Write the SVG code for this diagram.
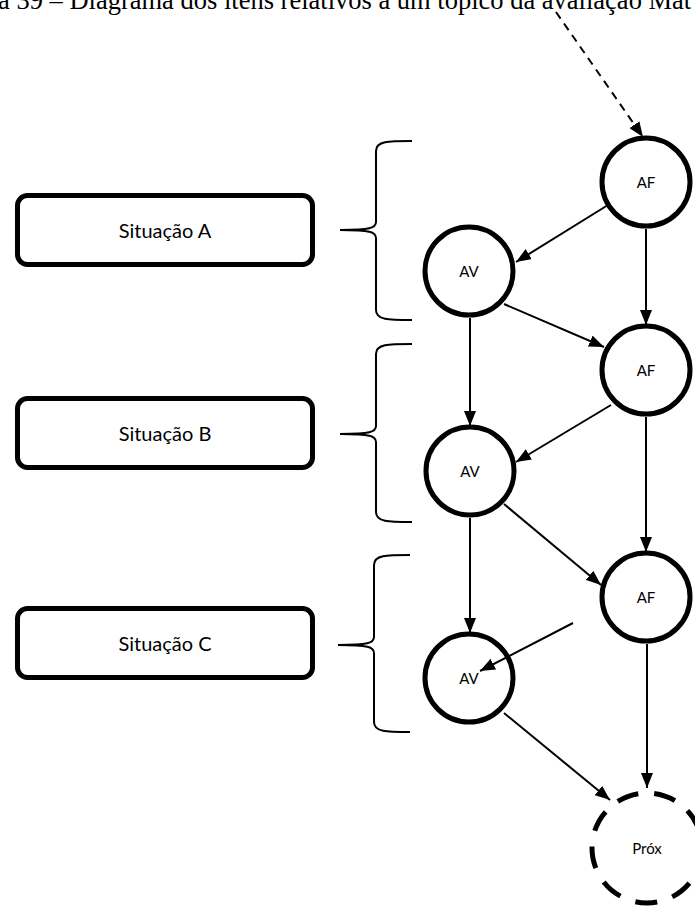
<svg xmlns="http://www.w3.org/2000/svg" width="695" height="907" viewBox="0 0 695 907">
  <defs>
    <marker id="arrow" markerUnits="userSpaceOnUse" markerWidth="15" markerHeight="12" refX="15" refY="6" orient="auto">
      <path d="M0,0 L15,6 L0,12 z" fill="#000"/>
    </marker>
    <style>
      .title { font-family: "Liberation Serif", "Times New Roman", serif; font-size: 26.5px; fill: #000; }
      .box { fill: #fff; stroke: #000; stroke-width: 5; }
      .box-label { font-family: Lato, "Liberation Sans", sans-serif; font-size: 20px; fill: #000; text-anchor: middle; dominant-baseline: central; }
      .node { fill: #fff; stroke: #000; stroke-width: 5; }
      .node-dashed { fill: #fff; stroke: #000; stroke-width: 5; stroke-dasharray: 22 16; }
      .node-label { font-family: Lato, "Liberation Sans", sans-serif; font-size: 15px; fill: #000; text-anchor: middle; dominant-baseline: central; }
      .brace { fill: none; stroke: #000; stroke-width: 2; }
      .edge { fill: none; stroke: #000; stroke-width: 2; marker-end: url(#arrow); }
      .edge-dashed { stroke-dasharray: 8 6; }
    </style>
  </defs>

  <rect width="695" height="907" fill="#fff"/>

  <!-- caption, cropped at the top and right -->
  <text class="title" x="-2" y="9">a 39 – Diagrama dos itens relativos a um tópico da avaliação Mat</text>

  <!-- situation boxes -->
  <g id="situacao-a">
    <rect class="box" x="17.5" y="195.5" width="295" height="69" rx="10"/>
    <text class="box-label" x="165" y="230">Situação A</text>
  </g>
  <g id="situacao-b">
    <rect class="box" x="17.5" y="398.5" width="295" height="69" rx="10"/>
    <text class="box-label" x="165" y="433">Situação B</text>
  </g>
  <g id="situacao-c">
    <rect class="box" x="17.5" y="608.5" width="295" height="69" rx="10"/>
    <text class="box-label" x="165" y="643">Situação C</text>
  </g>

  <!-- curly braces grouping each situation -->
  <g id="braces">
    <path class="brace" d="M412,141 C388,141 376,141 376,151 L376,222 C376,228 370,230 340,230 C370,230 376,232 376,238 L376,310 C376,320 388,320 412,320"/>
    <path class="brace" d="M412,344 C388,344 376,344 376,354 L376,426 C376,432 370,434 340,434 C370,434 376,436 376,442 L376,512 C376,522 388,522 412,522"/>
    <path class="brace" d="M410,555 C386,555 374,555 374,565 L374,637 C374,643 368,645 338,645 C368,645 374,647 374,653 L374,722 C374,732 386,732 410,732"/>
  </g>

  <!-- nodes -->
  <g id="af-1">
    <circle class="node" cx="646" cy="182" r="44"/>
    <text class="node-label" x="646" y="182">AF</text>
  </g>
  <g id="av-1">
    <circle class="node" cx="469" cy="271" r="44"/>
    <text class="node-label" x="469" y="271">AV</text>
  </g>
  <g id="af-2">
    <circle class="node" cx="646" cy="370" r="44"/>
    <text class="node-label" x="646" y="370">AF</text>
  </g>
  <g id="av-2">
    <circle class="node" cx="470" cy="471" r="44"/>
    <text class="node-label" x="470" y="471">AV</text>
  </g>
  <g id="af-3">
    <circle class="node" cx="646" cy="597" r="44"/>
    <text class="node-label" x="646" y="597">AF</text>
  </g>
  <g id="av-3">
    <circle class="node" cx="469" cy="678" r="44"/>
    <text class="node-label" x="469" y="678">AV</text>
  </g>
  <g id="prox">
    <circle class="node-dashed" cx="647" cy="848" r="55"/>
    <text class="node-label" x="647" y="848">Próx</text>
  </g>

  <!-- connectors, drawn over the nodes -->
  <g id="connectors">
    <line class="edge edge-dashed" x1="556" y1="12" x2="643" y2="137"/>
    <line class="edge" x1="608" y1="205" x2="516" y2="262"/>
    <line class="edge" x1="646" y1="229" x2="646" y2="325"/>
    <line class="edge" x1="470" y1="318" x2="470" y2="426"/>
    <line class="edge" x1="504" y1="304" x2="604" y2="347"/>
    <line class="edge" x1="611" y1="405" x2="516" y2="462"/>
    <line class="edge" x1="646" y1="417" x2="646" y2="552"/>
    <line class="edge" x1="470" y1="518" x2="470" y2="633"/>
    <line class="edge" x1="504" y1="504" x2="601" y2="585"/>
    <line class="edge" x1="573" y1="623" x2="480" y2="671"/>
    <line class="edge" x1="647" y1="644" x2="647" y2="788"/>
    <line class="edge" x1="504" y1="713" x2="610" y2="800"/>
  </g>
</svg>
